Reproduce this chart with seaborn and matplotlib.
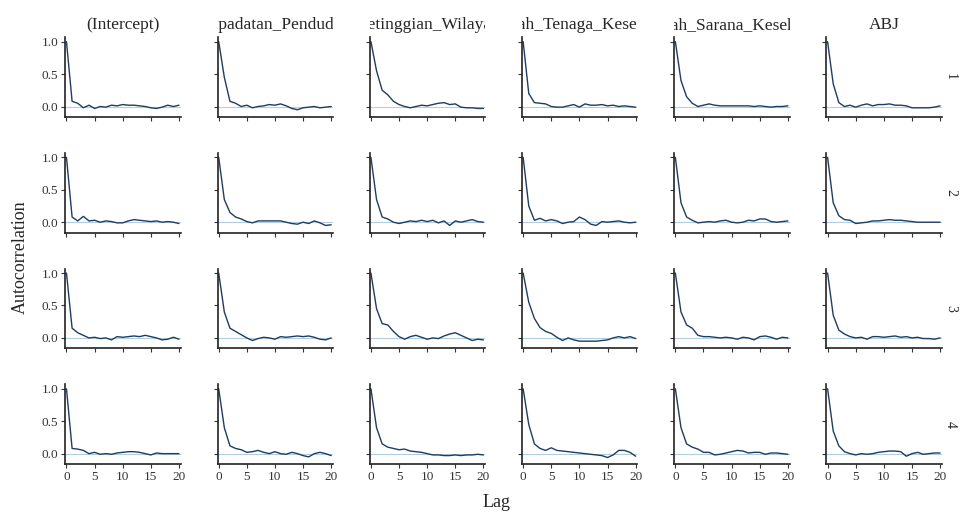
import numpy as np
import pandas as pd
import matplotlib
matplotlib.use("Agg")
import matplotlib.pyplot as plt
import seaborn as sns
from matplotlib.transforms import Bbox, TransformedBbox

# parameters (facet columns) and chains (facet rows)
params = ["(Intercept)", "Kepadatan_Penduduk", "Ketinggian_Wilayah",
          "Jumlah_Tenaga_Kesehatan", "Jumlah_Sarana_Kesehatan", "ABJ"]
chains = ["1", "2", "3", "4"]
lags = list(range(21))

# autocorrelation per lag (one list per parameter)
chain1 = [
    [1.0, 0.08, 0.05, -0.02, 0.02, -0.03, 0.0, -0.01, 0.02, 0.01, 0.03, 0.02, 0.02, 0.01, 0.0, -0.02, -0.03, -0.01, 0.02, 0.0, 0.02],
    [1.0, 0.45, 0.08, 0.05, 0.0, 0.02, -0.02, 0.0, 0.01, 0.03, 0.02, 0.04, 0.01, -0.03, -0.05, -0.02, -0.01, 0.0, -0.02, -0.01, 0.0],
    [1.0, 0.55, 0.25, 0.18, 0.08, 0.03, 0.0, -0.02, 0.0, 0.02, 0.01, 0.03, 0.05, 0.06, 0.03, 0.04, -0.01, -0.02, -0.02, -0.03, -0.03],
    [1.0, 0.2, 0.06, 0.05, 0.04, 0.0, -0.01, -0.01, 0.01, 0.03, -0.01, 0.04, 0.02, 0.02, 0.03, 0.01, 0.02, 0.0, 0.01, 0.0, -0.01],
    [1.0, 0.4, 0.15, 0.05, 0.0, 0.02, 0.04, 0.02, 0.01, 0.01, 0.01, 0.01, 0.01, 0.01, 0.0, 0.01, 0.0, -0.01, 0.0, 0.0, 0.01],
    [1.0, 0.35, 0.06, 0.0, 0.02, -0.01, 0.02, 0.04, 0.01, 0.03, 0.03, 0.04, 0.02, 0.02, 0.01, -0.02, -0.02, -0.02, -0.02, -0.01, 0.01],
]
chain2 = [
    [1.0, 0.08, 0.02, 0.09, 0.02, 0.03, 0.0, 0.02, 0.01, -0.01, -0.01, 0.02, 0.04, 0.03, 0.02, 0.01, 0.02, 0.0, 0.01, 0.0, -0.02],
    [1.0, 0.35, 0.15, 0.08, 0.05, 0.01, -0.01, 0.02, 0.02, 0.02, 0.02, 0.02, 0.0, -0.02, -0.03, 0.0, -0.02, 0.02, -0.01, -0.05, -0.04],
    [1.0, 0.35, 0.08, 0.05, 0.0, -0.02, 0.0, 0.02, 0.01, 0.03, 0.01, 0.03, -0.01, 0.02, -0.05, 0.02, 0.0, 0.02, 0.04, 0.01, 0.0],
    [1.0, 0.25, 0.03, 0.06, 0.02, 0.04, 0.02, -0.02, 0.0, 0.01, 0.08, 0.04, -0.03, -0.05, 0.01, 0.0, 0.01, 0.02, 0.0, -0.01, 0.0],
    [1.0, 0.3, 0.08, 0.03, -0.01, 0.0, 0.01, 0.0, 0.02, 0.03, 0.0, -0.01, 0.0, 0.03, 0.02, 0.05, 0.05, 0.01, 0.0, 0.01, 0.02],
    [1.0, 0.3, 0.1, 0.04, 0.03, -0.02, -0.01, 0.0, 0.02, 0.02, 0.03, 0.04, 0.03, 0.03, 0.02, 0.01, 0.0, 0.0, 0.0, 0.0, 0.0],
]
chain3 = [
    [1.0, 0.15, 0.08, 0.04, 0.0, 0.01, -0.01, 0.0, -0.03, 0.02, 0.01, 0.02, 0.03, 0.02, 0.04, 0.02, 0.0, -0.03, -0.02, 0.01, -0.02],
    [1.0, 0.4, 0.15, 0.1, 0.05, 0.0, -0.04, -0.01, 0.01, 0.0, -0.02, 0.02, 0.01, 0.02, 0.03, 0.02, 0.03, 0.01, -0.02, -0.03, 0.0],
    [1.0, 0.45, 0.22, 0.2, 0.1, 0.02, -0.02, 0.02, 0.04, 0.01, -0.02, 0.0, -0.01, 0.03, 0.06, 0.08, 0.04, 0.0, -0.04, -0.02, -0.03],
    [1.0, 0.55, 0.3, 0.16, 0.1, 0.07, 0.01, -0.04, 0.0, -0.03, -0.05, -0.05, -0.05, -0.05, -0.04, -0.03, 0.0, 0.02, 0.0, 0.02, -0.01],
    [1.0, 0.4, 0.2, 0.15, 0.04, 0.02, 0.02, 0.01, 0.0, 0.01, 0.0, -0.02, 0.01, 0.0, -0.03, 0.02, 0.03, 0.01, -0.02, 0.01, 0.0],
    [1.0, 0.35, 0.12, 0.06, 0.02, 0.0, 0.01, -0.02, 0.02, 0.02, 0.01, 0.02, 0.03, 0.01, 0.02, 0.0, 0.01, -0.01, -0.01, -0.02, 0.0],
]
chain4 = [
    [1.0, 0.08, 0.07, 0.05, 0.0, 0.02, -0.01, 0.0, -0.01, 0.01, 0.02, 0.03, 0.03, 0.02, 0.0, -0.02, 0.01, 0.0, 0.0, 0.0, 0.0],
    [1.0, 0.4, 0.12, 0.08, 0.06, 0.02, 0.03, 0.05, 0.02, 0.0, 0.03, 0.0, -0.01, 0.02, 0.0, -0.03, -0.05, 0.0, 0.02, 0.0, -0.03],
    [1.0, 0.4, 0.15, 0.1, 0.08, 0.06, 0.07, 0.04, 0.03, 0.02, 0.0, -0.02, -0.02, -0.03, -0.03, -0.02, -0.03, -0.02, -0.02, -0.01, -0.02],
    [1.0, 0.45, 0.15, 0.08, 0.05, 0.09, 0.05, 0.04, 0.03, 0.02, 0.01, 0.0, -0.01, -0.02, -0.03, -0.06, -0.02, 0.05, 0.05, 0.02, -0.04],
    [1.0, 0.4, 0.15, 0.1, 0.07, 0.02, 0.02, -0.02, -0.01, 0.01, 0.03, 0.05, 0.04, 0.01, 0.02, 0.02, -0.01, 0.01, 0.01, 0.0, -0.01],
    [1.0, 0.35, 0.12, 0.03, 0.0, -0.02, 0.0, -0.01, 0.0, 0.02, 0.03, 0.04, 0.04, 0.03, -0.04, 0.0, 0.02, -0.01, 0.0, 0.01, 0.01],
]

# long table for seaborn
rows = []
for ch, series in zip(chains, [chain1, chain2, chain3, chain4]):
    for p, vals in zip(params, series):
        for lag, ac in zip(lags, vals):
            rows.append((ch, p, lag, ac))
df = pd.DataFrame(rows, columns=["chain", "param", "Lag", "AC"])

sns.set_style("ticks")
plt.rcParams["font.family"] = ["Liberation Serif", "DejaVu Serif"]
plt.rcParams["axes.edgecolor"] = "#222222"
plt.rcParams["xtick.color"] = "#333333"
plt.rcParams["ytick.color"] = "#333333"

g = sns.relplot(data=df, x="Lag", y="AC", row="chain", col="param",
                kind="line", color="#1d3d63", linewidth=1.0,
                height=1.2, aspect=1.4,
                row_order=chains, col_order=params,
                facet_kws=dict(margin_titles=True, sharex=True, sharey=True))
g.refline(y=0, color="#b3cde0", linestyle="-", linewidth=0.8, zorder=1)

g.set_titles(col_template="{col_name}", row_template="{row_name}", size=12.5)
g.set_axis_labels("", "")
g.set(xlim=(-0.2, 20.3), ylim=(-0.16, 1.07),
      xticks=[0, 5, 10, 15, 20], yticks=[0.0, 0.5, 1.0])

for ax in g.axes.flat:
    ax.yaxis.set_major_formatter(matplotlib.ticker.FormatStrFormatter("%.1f"))
    ax.tick_params(labelsize=9.5, length=3, width=0.8, pad=2)
    for s in ["left", "bottom"]:
        ax.spines[s].set_linewidth(1.2)

# row labels: smaller, like the facet strips
for ax in g.axes[:, -1]:
    for t in ax.texts:
        t.set_fontsize(10)

# strip text is clipped to the panel width, like the facet strips
for ax in g.axes[0]:
    ax.title.set_clip_box(TransformedBbox(Bbox([[0, 1], [1, 1.9]]), ax.transAxes))
    ax.title.set_clip_on(True)
    ax.title.set_y(1.17)

g.figure.set_size_inches(9.61, 5.15)
g.figure.subplots_adjust(left=0.068, right=0.980, top=0.928, bottom=0.099,
                         wspace=0.32, hspace=0.45)
g.figure.text(0.517, 0.008, "Lag", ha="center", va="bottom", fontsize=13)
g.figure.text(0.012, 0.5, "Autocorrelation", ha="left", va="center",
              rotation=90, fontsize=13)

g.figure.savefig("out.png", dpi=100)
